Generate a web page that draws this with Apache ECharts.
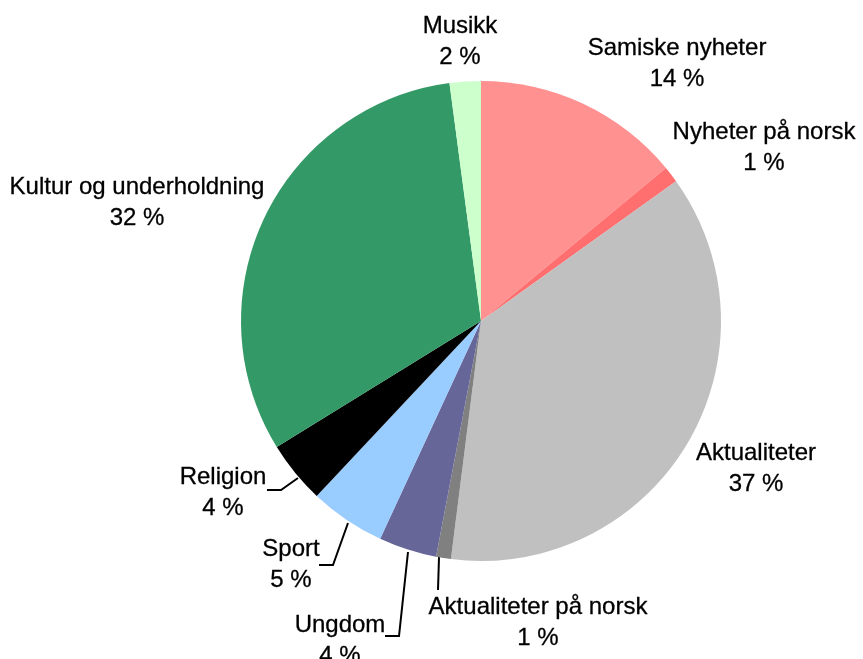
<!DOCTYPE html>
<html>
<head>
<meta charset="utf-8">
<script src="https://cdn.jsdelivr.net/npm/echarts@6/dist/echarts.min.js"></script>
<style>html,body{margin:0;padding:0;background:#fff}#c{width:863px;height:659px}</style>
</head>
<body>
<div id="c"></div>
<script>
const categories = ["Samiske nyheter","Nyheter på norsk","Aktualiteter","Aktualiteter på norsk","Ungdom","Sport","Religion","Kultur og underholdning","Musikk"];
const values = [14.0, 1.1, 36.9, 1.0, 3.9, 5.1, 4.2, 31.7, 2.1];
const colors = ["#FF9191","#FF6F6F","#C0C0C0","#808080","#666699","#99CCFF","#000000","#339966","#CCFFCC"];

// label placement (layout, not data): center of label text block, and leader line points
const labelPos = [
  {x:677, y:64},
  {x:764, y:148},
  {x:756, y:469},
  {x:538, y:623, line:[[439,557],[438,590]]},
  {x:340, y:641, line:[[408,552],[399,636],[385,636]]},
  {x:291, y:565, line:[[348,523],[333,565],[319,565]]},
  {x:223, y:493, line:[[298,478],[281,490],[267,490]]},
  {x:137, y:203},
  {x:460, y:42}
];

const chart = echarts.init(document.getElementById('c'), null, {renderer:'canvas'});
chart.setOption({
  animation:false,
  series:[{
    type:'pie',
    center:[481,321],
    radius:240,
    startAngle:90,
    clockwise:true,
    avoidLabelOverlap:false,
    data: categories.map((n,i)=>({name:n, value:values[i], itemStyle:{color:colors[i]}})),
    label:{
      show:true,
      position:'outside',
      color:'#000',
      fontFamily:'Liberation Sans, Arial, sans-serif',
      fontSize:24,
      lineHeight:31,
      align:'center',
      textBorderColor:'#000',
      textBorderWidth:0.3,
      formatter: p => p.name + '\n' + Math.round(p.percent) + ' %'
    },
    labelLine:{show:true, lineStyle:{color:'#000', width:2}, smooth:false},
    labelLayout: function(params){
      const lp = labelPos[params.dataIndex];
      const r = {x: lp.x, y: lp.y, align:'center', verticalAlign:'middle'};
      if (lp.line) r.labelLinePoints = lp.line;
      else r.labelLinePoints = [[-10,-10],[-10,-10],[-10,-10]];
      return r;
    }
  }]
});
</script>
</body>
</html>
